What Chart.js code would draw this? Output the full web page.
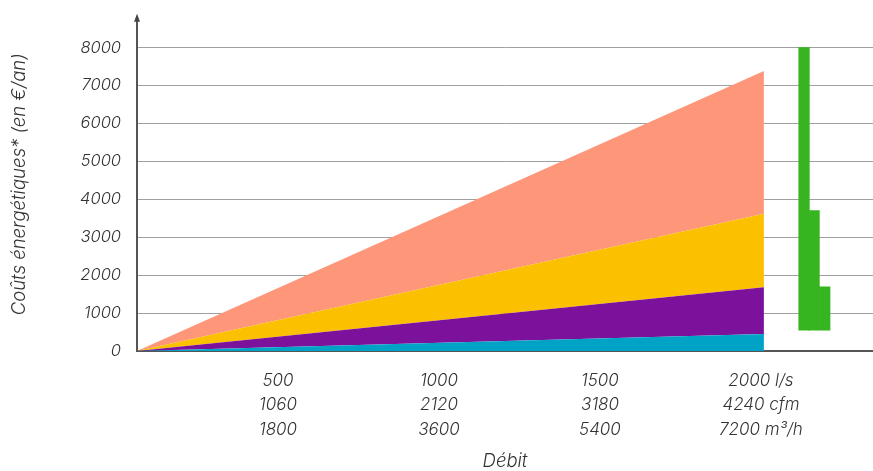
<!DOCTYPE html>
<html>
<head>
<meta charset="utf-8">
<script src="https://cdn.jsdelivr.net/npm/chart.js@4"></script>
<style>
  body { margin: 0; background: #fff; }
  #wrap { width: 873px; height: 471px; }
</style>
</head>
<body>
<div id="wrap"><canvas id="costChart" width="873" height="471"></canvas></div>
<script>
// débit (l/s) et coûts cumulés (€/an)
const flowLs = [0, 2000];
const cyanCost = [0, 450];
const purpleCost = [0, 1680];
const yellowCost = [0, 3620];
const salmonCost = [0, 7380];

// barre verte à droite
const greenPos = [2128, 2160, 2194];
const greenLow = [550, 550, 550];
const greenHigh = [8000, 3700, 1690];

const yTicks = [0, 1000, 2000, 3000, 4000, 5000, 6000, 7000, 8000];
const xTickValues = [500, 1000, 1500, 2000];
const xTickLabels = [
  ['500', '1060', '1800'],
  ['1000', '2120', '3600'],
  ['1500', '3180', '5400'],
  ['2000 l/s', '4240 cfm', '7200 m³/h']
];

const textColor = '#333';
const fontFamily = "Inter, 'Liberation Sans', sans-serif";

function areaSet(values, color, fill) {
  return {
    type: 'line',
    data: flowLs.map((x, i) => ({ x: x, y: values[i] })),
    backgroundColor: color,
    borderWidth: 0,
    pointRadius: 0,
    fill: fill,
    tension: 0
  };
}

// flèche en haut de l'axe vertical
const arrowPlugin = {
  id: 'axisArrow',
  afterDraw(chart) {
    const ctx = chart.ctx;
    const x = chart.chartArea.left;
    const top = chart.chartArea.top;
    ctx.save();
    ctx.fillStyle = '#444';
    ctx.beginPath();
    ctx.moveTo(x, top - 4);
    ctx.lineTo(x - 3, top + 4);
    ctx.lineTo(x + 3, top + 4);
    ctx.closePath();
    ctx.fill();
    ctx.restore();
  }
};

const ctx = document.getElementById('costChart').getContext('2d');
const costChart = new Chart(ctx, {
  type: 'line',
  data: {
    datasets: [
      areaSet(cyanCost, '#00a3c6', 'origin'),
      areaSet(purpleCost, '#7c119c', '-1'),
      areaSet(yellowCost, '#fbc000', '-1'),
      areaSet(salmonCost, '#fe977a', '-1'),
      {
        type: 'bar',
        data: greenPos.map((x, i) => ({ x: x, y: [greenLow[i], greenHigh[i]] })),
        backgroundColor: '#36b520',
        borderWidth: 0,
        barThickness: 10.6
      }
    ]
  },
  options: {
    responsive: false,
    animation: false,
    layout: { padding: { top: 14, left: 0, right: 0, bottom: 0 } },
    plugins: {
      legend: { display: false },
      tooltip: { enabled: false }
    },
    scales: {
      x: {
        type: 'linear',
        position: 'bottom',
        min: 0,
        max: 2348,
        offset: false,
        grid: { display: false, drawTicks: false },
        border: { display: true, color: '#555', width: 2 },
        ticks: { display: false },
        afterFit(scale) { scale.height = 0; }
      },
      x2: {
        type: 'linear',
        position: 'bottom',
        min: 62,
        max: 2348,
        grid: { display: false, drawTicks: false },
        border: { display: false },
        afterBuildTicks(scale) {
          scale.ticks = xTickValues.map(v => ({ value: v }));
        },
        ticks: {
          autoSkip: false,
          maxRotation: 0,
          padding: 17,
          color: textColor,
          font: { family: fontFamily, size: 17, style: 'italic', weight: 300, lineHeight: 1.46 },
          callback(value) {
            const i = xTickValues.indexOf(value);
            return i >= 0 ? xTickLabels[i] : '';
          }
        },
        title: {
          display: true,
          text: 'Débit',
          color: textColor,
          padding: { top: 0, bottom: -2 },
          font: { family: fontFamily, size: 18.5, style: 'italic', weight: 300 }
        },
        afterFit(scale) { scale.height = 120; }
      },
      y: {
        type: 'linear',
        min: 0,
        max: 8790,
        afterBuildTicks(scale) {
          scale.ticks = yTicks.map(v => ({ value: v }));
        },
        grid: { color: '#a0a0a0', lineWidth: 1, drawTicks: false },
        border: { display: true, color: '#555', width: 2 },
        ticks: {
          padding: 16,
          color: textColor,
          font: { family: fontFamily, size: 16.5, style: 'italic', weight: 300, lineHeight: 0.2 },
          callback(value) { return String(value); }
        },
        title: {
          display: true,
          text: 'Coûts énergétiques* (en €/an)',
          color: textColor,
          padding: { top: 8.5, bottom: 0 },
          font: { family: fontFamily, size: 18.5, style: 'italic', weight: 300 }
        },
        afterFit(scale) { scale.width = 137; }
      }
    }
  },
  plugins: [arrowPlugin]
});
</script>
</body>
</html>
